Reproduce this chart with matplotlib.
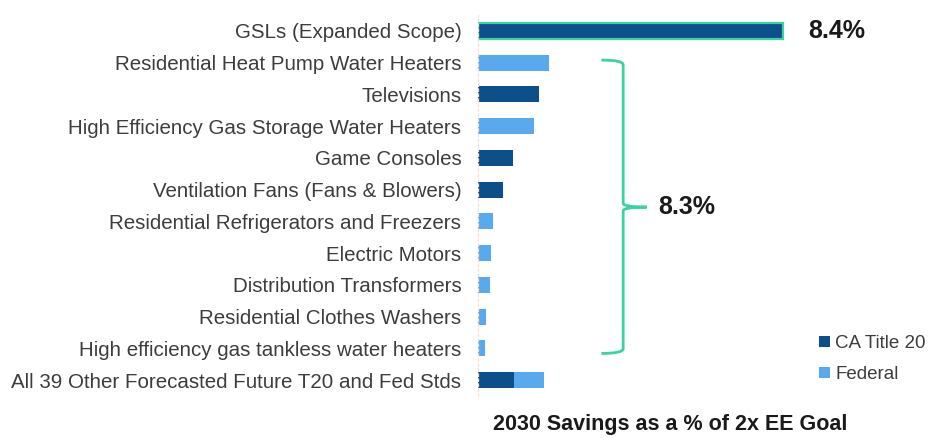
import matplotlib
matplotlib.use("Agg")
import matplotlib.pyplot as plt
import numpy as np
from matplotlib.path import Path
from matplotlib.patches import PathPatch, Patch

plt.rcParams['font.family'] = ['Liberation Sans', 'DejaVu Sans']

categories = [
    "GSLs (Expanded Scope)",
    "Residential Heat Pump Water Heaters",
    "Televisions",
    "High Efficiency Gas Storage Water Heaters",
    "Game Consoles",
    "Ventilation Fans (Fans & Blowers)",
    "Residential Refrigerators and Freezers",
    "Electric Motors",
    "Distribution Transformers",
    "Residential Clothes Washers",
    "High efficiency gas tankless water heaters",
    "All 39 Other Forecasted Future T20 and Fed Stds",
]
# % of 2x EE goal, 2030
ca_title20 = [8.4, 0, 1.68, 0, 0.97, 0.68, 0, 0, 0, 0, 0, 0.99]
federal = [0, 1.96, 0, 1.53, 0, 0, 0.41, 0.36, 0.32, 0.21, 0.18, 0.83]
top_label = "8.4%"
group_label = "8.3%"

DARK = "#0d4f8b"
LIGHT = "#59a9ee"
TEAL = "#38d3a3"
TXT = "#3d3d3d"

fig = plt.figure(figsize=(9.29, 4.38), dpi=100)
ax = fig.add_axes([0.5145, 0.0959, 0.4689, 0.8699])

y = np.arange(len(categories))
ca = np.array(ca_title20)
fed = np.array(federal)
bars_ca = ax.barh(y, ca, height=0.5, color=DARK)
ax.barh(y, fed, left=ca, height=0.5, color=LIGHT)
# outline the GSL bar
bars_ca[0].set_edgecolor(TEAL)
bars_ca[0].set_linewidth(1.6)

ax.set_xlim(0, 12)
ax.set_ylim(len(categories) - 0.5, -0.5)
ax.set_yticks(y)
ax.set_yticklabels(categories, fontsize=14.8, color=TXT)
ax.tick_params(axis='y', length=0, pad=12)
ax.set_xticks([])
for side in ["top", "right", "bottom"]:
    ax.spines[side].set_visible(False)
ax.spines["left"].set_color("#f6e0d0")
ax.spines["left"].set_linestyle((0, (2, 2)))
ax.spines["left"].set_linewidth(0.9)

ax.text(ca[0] + 0.7, 0, top_label, fontsize=18, fontweight='bold',
        color="#1a1a1a", va='center', ha='left')

# curly bracket spanning the smaller measures
bx, hx, tip = 4.0, 3.4, 4.65
y0, ym, y1 = 0.92, 5.55, 10.16
verts = [
    (hx, y0), (bx, y0), (bx, y0 + 0.15),
    (bx, ym - 0.12),
    (bx, ym), (tip, ym),
    (bx, ym), (bx, ym + 0.12),
    (bx, y1 - 0.15),
    (bx, y1), (hx, y1),
]
codes = [
    Path.MOVETO, Path.CURVE3, Path.CURVE3,
    Path.LINETO,
    Path.CURVE3, Path.CURVE3,
    Path.CURVE3, Path.CURVE3,
    Path.LINETO,
    Path.CURVE3, Path.CURVE3,
]
ax.add_patch(PathPatch(Path(verts, codes), fill=False, edgecolor=TEAL,
                       linewidth=2, clip_on=False))
ax.text(4.98, ym, group_label, fontsize=18, fontweight='bold',
        color="#1a1a1a", va='center', ha='left')

handles = [Patch(facecolor=DARK, label="CA Title 20"),
           Patch(facecolor=LIGHT, label="Federal")]
fig.legend(handles=handles, loc='center left', bbox_to_anchor=(0.872, 0.180),
           frameon=False, fontsize=13.5, handlelength=0.55, handleheight=0.55,
           handletextpad=0.3, labelspacing=0.75, borderpad=0,
           labelcolor=TXT)

fig.text(0.721, 0.03, "2030 Savings as a % of 2x EE Goal", fontsize=15.5,
         fontweight='bold', color="#1a1a1a", ha='center', va='center')

fig.savefig("out.png", dpi=100)
